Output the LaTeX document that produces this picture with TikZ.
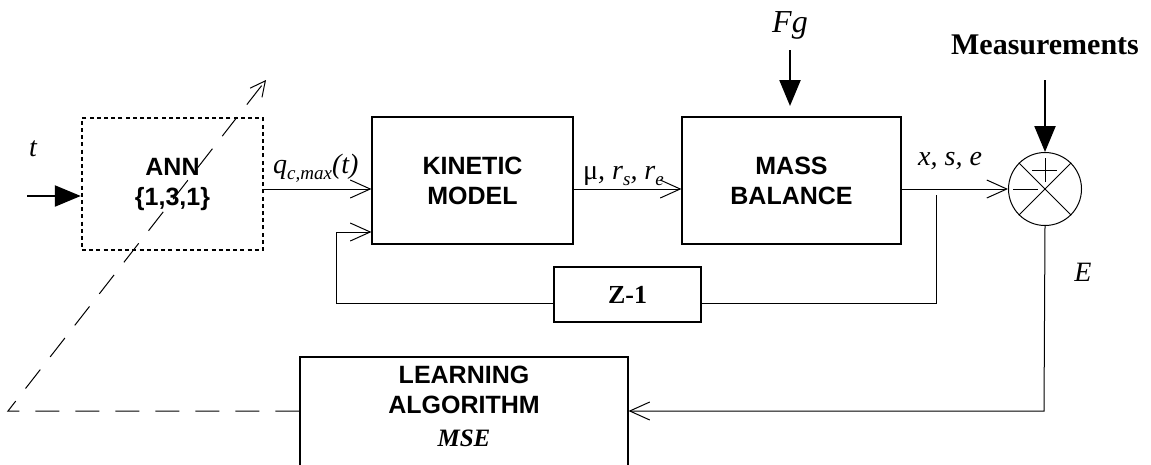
\documentclass[tikz,border=0pt]{standalone}
\usepackage{fontspec}
\setmainfont{Liberation Serif}
\newfontfamily\boxfont{Liberation Sans}
\usetikzlibrary{arrows.meta,calc}

\newcommand{\lowsub}[1]{\raisebox{-6pt}{\fontsize{19}{19}\selectfont\itshape #1}}

\begin{document}
\begin{tikzpicture}[x=1pt,y=-1pt,
  blk/.style={draw, line width=1.1pt, inner sep=0pt, align=center,
    font=\boxfont\bfseries\fontsize{25}{30}\selectfont},
  dotbox/.style={blk, line width=2.4pt, dash pattern=on 4pt off 3.2pt},
  lbl/.style={inner sep=0pt, font=\fontsize{28}{30}\selectfont\itshape},
  sig/.style={line width=1pt, -{Straight Barb[length=20pt,width=18pt,line width=1pt]}},
  heavy/.style={line width=2.3pt, -{Triangle[length=26pt,width=21pt]}},
  learnpath/.style={line width=1pt, dash pattern=on 24pt off 16pt,
    -{Straight Barb[length=15pt,width=15pt,line width=1pt]}},
  thin/.style={line width=1pt}
]
\useasboundingbox (0,0) rectangle (1151,464);

% blocks
\node[dotbox, minimum width=181pt, minimum height=132pt] (ann) at (172.5,184) {ANN\\\{1,3,1\}};
\node[blk, minimum width=201pt, minimum height=127pt] (kin) at (472.5,180.5) {KINETIC\\MODEL};
\node[blk, minimum width=219pt, minimum height=127pt] (mass) at (791.5,180.5) {MASS\\BALANCE};
\node[blk, minimum width=147pt, minimum height=55pt,
      font=\bfseries\fontsize{26}{30}\selectfont] (z1) at (627.5,294.5) {Z-1};
\node[blk, minimum width=328pt, minimum height=120pt] (learn) at (464,417) {};
\node[inner sep=0pt, align=center, font=\boxfont\bfseries\fontsize{25}{30}\selectfont]
  (learntext) at (464,406) {LEARNING\\ALGORITHM\\[3pt]{\rmfamily\itshape MSE}};

% summing junction
\node[draw, circle, thin, minimum size=73pt, inner sep=0pt] (sum) at (1045,189) {};
\draw[thin] (sum.north west) -- (sum.south east);
\draw[thin] (sum.north east) -- (sum.south west);
\draw[thin] ([shift={(-13,-19)}]sum.center) -- ([shift={(12,-19)}]sum.center);
\draw[thin] ([shift={(0,-31)}]sum.center) -- ([shift={(0,-7)}]sum.center);
\draw[thin] ([shift={(-32,0)}]sum.center) -- ([shift={(-7,0)}]sum.center);

% labels
\node[lbl] (tlbl) at (33,149) {t};
\node[lbl, anchor=base west] (qlbl) at (273,173) {q\lowsub{c,max}(t)};
\node[lbl, anchor=base west] (mulbl) at (583,179)
  {{\upshape μ},\ r\lowsub{s},\ r\lowsub{e}};
\node[lbl, anchor=base west] (xlbl) at (918,165) {x,\ s,\ e};
\node[lbl] (elbl) at (1083,272) {E};
\node[lbl, font=\fontsize{32}{34}\selectfont\itshape] (fg) at (790,25) {Fg};
\node[inner sep=0pt, font=\bfseries\fontsize{30}{32}\selectfont] (meas) at (1045,45) {Measurements};

% inputs
\coordinate (tin) at (27,196);
\draw[heavy] (tin) -- (tin -| ann.west);
\coordinate (fgtop) at (790,50);
\coordinate (fgend) at (790,106);
\draw[heavy] (fgtop) -- (fgend);
\coordinate (mtop) at (1045,80);
\draw[heavy] (mtop) -- (sum.north);

% forward path
\draw[sig] (ann.east |- 0,189) -- (kin.west |- 0,189);
\draw[sig] (kin.east |- 0,189) -- (mass.west |- 0,189);
\draw[sig] (mass.east |- 0,189) -- (sum.west);

% state feedback through the delay
\coordinate (fbstart) at (936,195);
\draw[thin] (fbstart) -- (936,303) -- (z1.east |- 0,303);
\draw[sig] (z1.west |- 0,303) -- (336,303) -- (336,232) -- (kin.west |- 0,232);

% error to learning, learning to network weights
\draw[sig] (sum.south) -- (1044,411) -- (learn.east |- 0,411);
\coordinate (adj) at (266,80);
\draw[learnpath] (learn.west |- 0,411) -- (8,411) -- (adj);
\end{tikzpicture}
\end{document}
